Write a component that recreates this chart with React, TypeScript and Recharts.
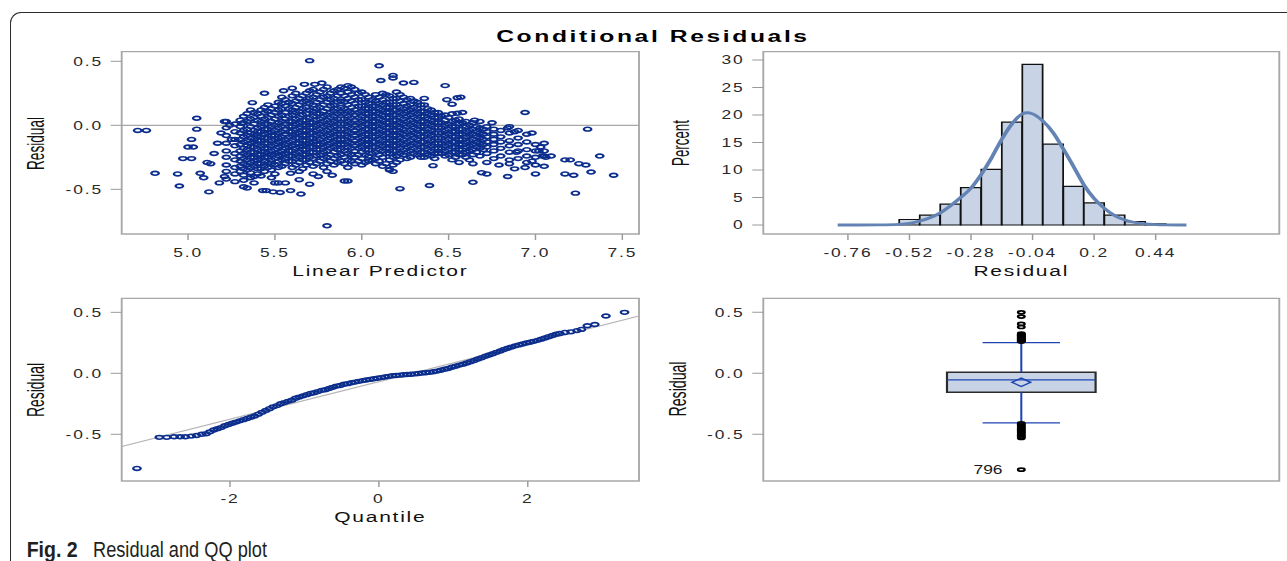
import React from 'react';
import {
  ScatterChart,
  ComposedChart,
  Scatter,
  Bar,
  Line,
  XAxis,
  YAxis,
  ReferenceArea,
  ReferenceLine,
  LabelList,
} from 'recharts';

// the SAS panel is stretched horizontally in the source picture
const STRETCH = 1.45;
const INNER_W = 1287 / STRETCH;

// ---- panel 1: residual vs linear predictor (columns of the dense cloud + stray points)
const scatterColumns: [number, number[]][] = [
  [5.22, [0.03, -0.02, -0.08, -0.14, -0.2, -0.25, -0.31, -0.36, -0.42]],
  [5.27, [0.01, -0.05, -0.11, -0.16, -0.22, -0.27, -0.33, -0.38, -0.44]],
  [5.32, [0.07, 0.02, -0.04, -0.09, -0.13, -0.18, -0.22, -0.26, -0.3, -0.34, -0.39, -0.43]],
  [5.36, [0.12, 0.05, -0.01, -0.06, -0.1, -0.14, -0.17, -0.21, -0.25, -0.29, -0.33, -0.37, -0.41]],
  [5.4, [0.09, 0.04, -0.02, -0.05, -0.08, -0.12, -0.15, -0.19, -0.23, -0.27, -0.3, -0.34, -0.38]],
  [5.44, [0.14, 0.1, 0.05, 0.01, -0.03, -0.07, -0.1, -0.14, -0.18, -0.21, -0.25, -0.28, -0.32, -0.36]],
  [5.48, [0.13, 0.08, 0.03, -0.01, -0.05, -0.08, -0.12, -0.16, -0.2, -0.23, -0.27, -0.3, -0.35, -0.41]],
  [5.52, [0.18, 0.12, 0.07, 0.02, -0.02, -0.06, -0.1, -0.13, -0.17, -0.21, -0.24, -0.28, -0.33, -0.45]],
  [5.56, [0.2, 0.15, 0.1, 0.05, 0.01, -0.03, -0.07, -0.11, -0.15, -0.18, -0.22, -0.26, -0.3]],
  [5.6, [0.23, 0.17, 0.12, 0.08, 0.03, -0.01, -0.05, -0.08, -0.12, -0.16, -0.2, -0.24, -0.28, -0.33]],
  [5.64, [0.21, 0.16, 0.11, 0.06, 0.02, -0.02, -0.06, -0.1, -0.14, -0.17, -0.21, -0.25, -0.29, -0.36]],
  [5.68, [0.25, 0.19, 0.14, 0.09, 0.04, 0.0, -0.04, -0.08, -0.12, -0.15, -0.19, -0.23, -0.27, -0.31]],
  [5.72, [0.28, 0.22, 0.16, 0.11, 0.07, 0.02, -0.02, -0.06, -0.1, -0.13, -0.17, -0.21, -0.26, -0.32, -0.38]],
  [5.76, [0.26, 0.2, 0.14, 0.09, 0.05, 0.01, -0.03, -0.07, -0.11, -0.15, -0.19, -0.23, -0.28]],
  [5.8, [0.3, 0.23, 0.18, 0.13, 0.08, 0.04, 0.0, -0.04, -0.08, -0.12, -0.16, -0.2, -0.25, -0.3, -0.36]],
  [5.84, [0.27, 0.21, 0.16, 0.11, 0.07, 0.03, -0.01, -0.05, -0.09, -0.13, -0.17, -0.21, -0.26, -0.31]],
  [5.88, [0.3, 0.25, 0.19, 0.14, 0.1, 0.05, 0.01, -0.03, -0.07, -0.11, -0.15, -0.19, -0.23, -0.28]],
  [5.92, [0.31, 0.26, 0.21, 0.16, 0.11, 0.07, 0.03, -0.01, -0.05, -0.09, -0.13, -0.17, -0.22, -0.27, -0.33]],
  [5.96, [0.28, 0.22, 0.17, 0.12, 0.08, 0.04, 0.0, -0.04, -0.08, -0.12, -0.16, -0.2, -0.25, -0.3]],
  [6.0, [0.26, 0.2, 0.15, 0.11, 0.07, 0.03, -0.01, -0.05, -0.09, -0.13, -0.17, -0.21, -0.26, -0.31]],
  [6.04, [0.22, 0.17, 0.13, 0.09, 0.05, 0.01, -0.03, -0.07, -0.11, -0.15, -0.19, -0.24, -0.28]],
  [6.08, [0.24, 0.19, 0.15, 0.11, 0.07, 0.03, -0.01, -0.05, -0.09, -0.13, -0.17, -0.21, -0.26, -0.3]],
  [6.12, [0.25, 0.2, 0.16, 0.12, 0.08, 0.04, 0.0, -0.04, -0.08, -0.12, -0.16, -0.2, -0.25, -0.32]],
  [6.16, [0.23, 0.18, 0.14, 0.1, 0.06, 0.02, -0.02, -0.06, -0.1, -0.14, -0.18, -0.22, -0.27, -0.35]],
  [6.2, [0.26, 0.21, 0.16, 0.12, 0.08, 0.04, 0.0, -0.04, -0.08, -0.12, -0.16, -0.2, -0.24, -0.29]],
  [6.24, [0.22, 0.17, 0.13, 0.09, 0.05, 0.01, -0.03, -0.07, -0.11, -0.15, -0.19, -0.23]],
  [6.28, [0.21, 0.16, 0.12, 0.08, 0.04, 0.0, -0.04, -0.08, -0.12, -0.16, -0.2, -0.25]],
  [6.32, [0.18, 0.13, 0.09, 0.05, 0.01, -0.03, -0.07, -0.11, -0.15, -0.19, -0.23]],
  [6.36, [0.16, 0.11, 0.07, 0.03, -0.01, -0.05, -0.09, -0.13, -0.17, -0.21, -0.25]],
  [6.4, [0.12, 0.08, 0.04, 0.0, -0.04, -0.08, -0.12, -0.16, -0.2, -0.24]],
  [6.44, [0.1, 0.06, 0.02, -0.02, -0.06, -0.1, -0.14, -0.18, -0.22]],
  [6.48, [0.08, 0.04, 0.0, -0.04, -0.08, -0.12, -0.16, -0.2, -0.24]],
  [6.52, [0.09, 0.03, -0.01, -0.05, -0.09, -0.13, -0.17, -0.21, -0.27]],
  [6.56, [0.05, 0.01, -0.03, -0.07, -0.11, -0.15, -0.19, -0.23, -0.29]],
  [6.6, [0.03, -0.01, -0.05, -0.09, -0.13, -0.17, -0.21, -0.25]],
  [6.64, [0.02, -0.03, -0.07, -0.11, -0.15, -0.19, -0.23, -0.3]],
  [6.68, [0.03, -0.02, -0.06, -0.1, -0.14, -0.18, -0.24]],
  [6.72, [-0.01, -0.05, -0.09, -0.13, -0.17, -0.22, -0.29]],
  [6.76, [-0.03, -0.07, -0.11, -0.15, -0.2, -0.26]],
  [6.8, [-0.04, -0.09, -0.13, -0.18, -0.24]],
  [6.85, [-0.01, -0.06, -0.12, -0.16, -0.21, -0.27]],
  [6.9, [-0.04, -0.1, -0.15, -0.2, -0.26]],
  [6.95, [-0.07, -0.13, -0.19, -0.24, -0.29]],
  [7.0, [-0.15, -0.2, -0.25, -0.31]],
  [7.05, [-0.14, -0.2, -0.24, -0.32]],
];

// points lying between the columns above, in the dense core
const scatterCore: [number, number[]][] = [
  [5.3, [0.04, -0.01, -0.06, -0.11, -0.15, -0.2, -0.24, -0.28, -0.32, -0.36]],
  [5.34, [0.09, 0.03, -0.03, -0.08, -0.12, -0.16, -0.19, -0.23, -0.27, -0.31, -0.35]],
  [5.38, [0.1, 0.06, 0.01, -0.04, -0.07, -0.11, -0.13, -0.17, -0.21, -0.25, -0.28, -0.32, -0.4]],
  [5.42, [0.12, 0.07, 0.03, -0.01, -0.05, -0.09, -0.12, -0.16, -0.2, -0.23, -0.26, -0.3, -0.34]],
  [5.46, [0.16, 0.11, 0.06, 0.01, -0.03, -0.06, -0.1, -0.14, -0.18, -0.22, -0.25, -0.29, -0.33]],
  [5.5, [0.15, 0.1, 0.05, 0.0, -0.04, -0.08, -0.11, -0.15, -0.19, -0.22, -0.26, -0.31, -0.38]],
  [5.54, [0.22, 0.17, 0.13, 0.08, 0.03, -0.01, -0.05, -0.09, -0.12, -0.16, -0.2, -0.23, -0.27, -0.32]],
  [5.58, [0.18, 0.13, 0.07, 0.03, -0.01, -0.05, -0.09, -0.13, -0.17, -0.2, -0.24, -0.28]],
  [5.62, [0.25, 0.19, 0.14, 0.1, 0.05, 0.01, -0.03, -0.07, -0.1, -0.14, -0.18, -0.22, -0.26, -0.31]],
  [5.66, [0.23, 0.18, 0.13, 0.08, 0.04, 0.0, -0.04, -0.08, -0.12, -0.16, -0.19, -0.23, -0.27, -0.34]],
  [5.7, [0.27, 0.21, 0.17, 0.12, 0.06, 0.02, -0.02, -0.06, -0.1, -0.14, -0.17, -0.21, -0.25, -0.29]],
  [5.74, [0.24, 0.18, 0.13, 0.09, 0.04, 0.0, -0.04, -0.08, -0.12, -0.15, -0.19, -0.24, -0.3]],
  [5.78, [0.28, 0.22, 0.16, 0.11, 0.07, 0.03, -0.01, -0.05, -0.09, -0.13, -0.17, -0.21, -0.26, -0.33]],
  [5.82, [0.25, 0.2, 0.15, 0.1, 0.06, 0.02, -0.02, -0.06, -0.1, -0.14, -0.18, -0.23, -0.28]],
  [5.86, [0.28, 0.23, 0.18, 0.13, 0.09, 0.05, 0.01, -0.03, -0.07, -0.11, -0.15, -0.19, -0.24, -0.29]],
  [5.9, [0.29, 0.23, 0.18, 0.13, 0.09, 0.05, 0.01, -0.03, -0.07, -0.11, -0.15, -0.2, -0.25, -0.3]],
  [5.94, [0.3, 0.24, 0.19, 0.14, 0.1, 0.06, 0.02, -0.02, -0.06, -0.1, -0.14, -0.18, -0.23, -0.28]],
  [5.98, [0.25, 0.2, 0.15, 0.1, 0.06, 0.02, -0.02, -0.06, -0.1, -0.14, -0.18, -0.23, -0.28]],
  [6.02, [0.24, 0.18, 0.13, 0.09, 0.05, 0.01, -0.03, -0.07, -0.11, -0.15, -0.19, -0.23, -0.29]],
  [6.06, [0.2, 0.15, 0.11, 0.07, 0.03, -0.01, -0.05, -0.09, -0.13, -0.17, -0.22, -0.27]],
  [6.1, [0.22, 0.17, 0.13, 0.09, 0.05, 0.01, -0.03, -0.07, -0.11, -0.15, -0.19, -0.23, -0.28]],
  [6.14, [0.24, 0.18, 0.14, 0.1, 0.06, 0.02, -0.02, -0.06, -0.1, -0.14, -0.18, -0.22, -0.3]],
  [6.18, [0.21, 0.16, 0.12, 0.08, 0.04, 0.0, -0.04, -0.08, -0.12, -0.16, -0.2, -0.25, -0.31]],
  [6.22, [0.24, 0.19, 0.14, 0.1, 0.06, 0.02, -0.02, -0.06, -0.1, -0.14, -0.18, -0.22, -0.27]],
  [6.26, [0.2, 0.15, 0.11, 0.07, 0.03, -0.01, -0.05, -0.09, -0.13, -0.17, -0.21, -0.26]],
  [6.3, [0.19, 0.14, 0.1, 0.06, 0.02, -0.02, -0.06, -0.1, -0.14, -0.18, -0.22]],
  [6.34, [0.16, 0.11, 0.07, 0.03, -0.01, -0.05, -0.09, -0.13, -0.17, -0.21, -0.25]],
  [6.38, [0.13, 0.09, 0.05, 0.01, -0.03, -0.07, -0.11, -0.15, -0.19, -0.23]],
  [6.42, [0.1, 0.06, 0.02, -0.02, -0.06, -0.1, -0.14, -0.18, -0.22, -0.26]],
  [6.46, [0.07, 0.02, -0.02, -0.06, -0.1, -0.14, -0.18, -0.22]],
  [6.5, [0.06, 0.01, -0.03, -0.07, -0.11, -0.15, -0.19, -0.23]],
  [6.54, [0.04, -0.01, -0.05, -0.09, -0.13, -0.17, -0.21, -0.25]],
  [6.58, [0.02, -0.03, -0.07, -0.11, -0.15, -0.19, -0.23]],
  [6.62, [0.0, -0.04, -0.08, -0.12, -0.16, -0.2, -0.27]],
  [6.66, [-0.01, -0.05, -0.09, -0.13, -0.17, -0.21]],
  [6.7, [-0.03, -0.07, -0.11, -0.15, -0.19]],
];

const scatterStray: [number, number][] = [
  [4.71, -0.04], [4.76, -0.04], [4.81, -0.375], [4.94, -0.38], [4.95, -0.474], [5.05, 0.055],
  [5.05, -0.03], [5.02, -0.11], [5.0, -0.17], [5.03, -0.17], [4.97, -0.26], [5.02, -0.26],
  [5.11, -0.29], [5.07, -0.375], [5.09, -0.41], [5.12, -0.52], [5.18, -0.45], [5.21, -0.4],
  [5.13, -0.3], [5.15, -0.22], [5.17, -0.14], [5.19, -0.06], [5.21, 0.03], [5.24, 0.0],
  [5.25, -0.11], [5.31, 0.016], [5.37, 0.177], [5.44, 0.25], [5.55, 0.27], [5.6, 0.29],
  [5.67, 0.32], [5.73, 0.32], [5.77, 0.33], [5.7, 0.505], [5.8, -0.785], [5.65, -0.537],
  [5.59, -0.51], [5.53, -0.525], [5.49, -0.52], [5.45, -0.51], [5.43, -0.51], [5.7, -0.46],
  [5.32, -0.48], [5.34, -0.49], [5.38, -0.45], [5.42, -0.396], [5.5, -0.45], [5.56, -0.45],
  [5.9, -0.435], [5.92, -0.435], [5.64, -0.425], [5.75, -0.4], [5.83, -0.39], [5.59, -0.375],
  [6.1, 0.465], [6.18, 0.39], [6.18, 0.37], [6.11, 0.35], [6.24, 0.33], [6.3, 0.335],
  [6.48, 0.31], [6.36, 0.21], [6.49, 0.2], [6.52, 0.165], [6.57, 0.22], [6.55, 0.215],
  [6.55, 0.094], [6.58, 0.1], [6.94, 0.1], [7.3, -0.03], [6.98, -0.06], [7.37, -0.24],
  [7.45, -0.39], [7.23, -0.53], [7.32, -0.365], [7.22, -0.39], [7.17, -0.38], [7.17, -0.27],
  [7.2, -0.27], [7.25, -0.3], [7.29, -0.31], [7.09, -0.24], [7.06, -0.25], [7.0, -0.38],
  [6.84, -0.4], [6.69, -0.37], [6.72, -0.38], [6.64, -0.445], [6.39, -0.47], [6.22, -0.495],
  [6.41, -0.315], [6.79, -0.31], [6.85, -0.3], [6.88, -0.34], [6.94, -0.33], [7.04, -0.24],
  [6.89, -0.21], [6.98, -0.28], [7.03, -0.17], [7.02, -0.2], [6.16, -0.345], [6.18, -0.36],
  [6.84, -0.02], [6.88, -0.05], [6.75, 0.02], [6.65, 0.04],
];

const predictorTicks = [5, 5.5, 6, 6.5, 7, 7.5];
const residualTicks = [-0.5, 0, 0.5];

// ---- panel 2: histogram of residuals with normal curve
const binCenters = [-0.52, -0.44, -0.36, -0.28, -0.2, -0.12, -0.04, 0.04, 0.12, 0.2, 0.28, 0.36, 0.44];
const binPercents = [1.0, 1.8, 3.8, 6.8, 10.1, 18.7, 29.2, 14.7, 7.0, 4.0, 1.8, 0.6, 0.2];
const curveX = [-0.8, -0.72, -0.64, -0.56, -0.52, -0.48, -0.44, -0.4, -0.36, -0.32, -0.28, -0.24, -0.2, -0.16,
  -0.12, -0.08, -0.06, -0.04, 0.0, 0.04, 0.08, 0.12, 0.16, 0.2, 0.24, 0.28, 0.32, 0.36, 0.4, 0.44, 0.48, 0.56];
const curveY = [0, 0, 0.02, 0.12, 0.3, 0.7, 1.3, 2.2, 3.5, 5.0, 6.7, 9.2, 12.2, 15.6,
  18.4, 20.2, 20.4, 20.2, 18.9, 16.8, 13.8, 10.6, 7.3, 4.8, 3.0, 1.7, 0.9, 0.45, 0.2, 0.08, 0.03, 0];
const histTicks = [-0.76, -0.52, -0.28, -0.04, 0.2, 0.44];
const percentTicks = [0, 5, 10, 15, 20, 25, 30];

// ---- panel 3: QQ plot
const qqPoints: [number, number][] = [
  [-3.25, -0.78], [-2.95, -0.525], [-2.85, -0.525], [-2.75, -0.52], [-2.67, -0.52], [-2.6, -0.52],
  [-2.52, -0.515], [-2.45, -0.51], [-2.38, -0.5], [-2.32, -0.495], [-2.27, -0.48], [-2.22, -0.465],
  [-2.17, -0.455], [-2.12, -0.445], [-2.07, -0.43], [-2.02, -0.42], [-1.97, -0.41], [-1.92, -0.4],
  [-1.87, -0.39], [-1.82, -0.38], [-1.77, -0.37], [-1.72, -0.36], [-1.67, -0.35], [-1.62, -0.335],
  [-1.57, -0.32], [-1.52, -0.305], [-1.47, -0.29], [-1.42, -0.275], [-1.37, -0.265], [-1.32, -0.25],
  [-1.27, -0.24], [-1.22, -0.23], [-1.17, -0.22], [-1.12, -0.205], [-1.07, -0.195], [-1.02, -0.185],
  [-0.97, -0.175], [-0.92, -0.165], [-0.87, -0.16], [-0.82, -0.15], [-0.77, -0.14], [-0.72, -0.135],
  [-0.67, -0.125], [-0.62, -0.115], [-0.57, -0.105], [-0.52, -0.1], [-0.47, -0.09], [-0.42, -0.085],
  [-0.37, -0.078], [-0.32, -0.072], [-0.27, -0.066], [-0.22, -0.06], [-0.17, -0.055], [-0.12, -0.05],
  [-0.07, -0.045], [-0.02, -0.04], [0.03, -0.035], [0.08, -0.03], [0.13, -0.025], [0.18, -0.02],
  [0.23, -0.018], [0.28, -0.015], [0.33, -0.012], [0.38, -0.01], [0.43, -0.008], [0.48, -0.005],
  [0.53, -0.002], [0.58, 0.002], [0.63, 0.005], [0.68, 0.008], [0.73, 0.013], [0.78, 0.018],
  [0.83, 0.025], [0.88, 0.033], [0.93, 0.04], [0.98, 0.05], [1.03, 0.058], [1.08, 0.067],
  [1.13, 0.075], [1.18, 0.085], [1.23, 0.095], [1.28, 0.105], [1.33, 0.117], [1.38, 0.128],
  [1.43, 0.14], [1.48, 0.15], [1.53, 0.16], [1.58, 0.172], [1.63, 0.183], [1.68, 0.195],
  [1.73, 0.205], [1.78, 0.215], [1.83, 0.225], [1.88, 0.233], [1.93, 0.24], [1.98, 0.248],
  [2.03, 0.255], [2.08, 0.262], [2.13, 0.27], [2.18, 0.28], [2.23, 0.29], [2.28, 0.3],
  [2.33, 0.31], [2.38, 0.32], [2.43, 0.327], [2.5, 0.335], [2.58, 0.34], [2.66, 0.35],
  [2.72, 0.36], [2.8, 0.39], [2.9, 0.4], [3.05, 0.47], [3.3, 0.5],
];
const qqLine: [number, number][] = [[-3.455, -0.6], [3.494, 0.47]];
const quantileTicks = [-2, 0, 2];

// ---- panel 4: box plot
const boxQ1 = -0.156;
const boxMedian = -0.054;
const boxQ3 = 0.008;
const boxMean = -0.074;
const lowerFence = -0.407;
const upperFence = 0.252;
const upperOutliers = [0.26, 0.265, 0.27, 0.275, 0.28, 0.285, 0.29, 0.295, 0.3, 0.305, 0.31, 0.315, 0.32,
  0.325, 0.38, 0.405, 0.465, 0.5];
const lowerOutliers = [-0.41, -0.42, -0.43, -0.44, -0.45, -0.46, -0.47, -0.48, -0.49, -0.5, -0.51, -0.52,
  -0.53];
const farOutlierId = '796';
const farOutlierValue = -0.79;

// ---- styling
const FONT = "'Liberation Sans', Arial, Helvetica, sans-serif";
const BLUE = '#0b2d8c';
const FRAME = '#a8a8a8';
const TICK = '#9a9a9a';
const BAR_FILL = '#c8d4e6';
const CURVE = '#6383b5';
const WHISKER = '#1f45b2';

const BOX_HALF = 0.144;
const CAP_HALF = 0.075;

const tickText = { fontFamily: FONT, fontSize: 12, fill: '#2a2a2a', letterSpacing: '1.3px' };

const xTick = (fmt: (v: number) => string) => (props: any) => (
  <text x={props.x} y={props.y} dy="0.71em" textAnchor="middle" style={tickText}>
    {fmt(props.payload.value)}
  </text>
);
const yTick = (fmt: (v: number) => string) => (props: any) => (
  <text x={props.x} y={props.y} dy="0.355em" textAnchor="end" style={tickText}>
    {fmt(props.payload.value)}
  </text>
);

const xLabel = (value: string, offset: number) => ({
  value,
  position: 'insideBottom' as const,
  offset,
  style: { fontFamily: FONT, fontSize: 14.5, fill: '#111', letterSpacing: '1.2px' },
});

// condensed vertical axis titles, drawn in the stretched layer
const yTitles = [
  { text: 'Residual', x: 24, y: 143.5, length: 53 },
  { text: 'Percent', x: 468.9, y: 143, length: 46 },
  { text: 'Residual', x: 24, y: 390, length: 54 },
  { text: 'Residual', x: 467, y: 389, length: 55 },
];

const BlueRing = (props: any) => (
  <ellipse cx={props.cx} cy={props.cy} rx={2.6} ry={1.9} fill="none" stroke={BLUE} strokeWidth={1.6} />
);
const BlackRing = (props: any) => (
  <ellipse cx={props.cx} cy={props.cy} rx={2.3} ry={1.5} fill="none" stroke="#000" strokeWidth={1.6} />
);
const MeanDiamond = (props: any) => {
  const { cx, cy } = props;
  return (
    <polygon
      points={`${cx - 6.5},${cy} ${cx},${cy - 4.2} ${cx + 6.5},${cy} ${cx},${cy + 4.2}`}
      fill="none"
      stroke={WHISKER}
      strokeWidth={1.3}
    />
  );
};

const fmt1 = (v: number) => v.toFixed(1);
const fmtPlain = (v: number) => String(v);

const ResidualPanel = () => {
  const data = [
    ...scatterColumns.flatMap(([x, ys]) => ys.map((y) => ({ x, y }))),
    ...scatterCore.flatMap(([x, ys]) => ys.map((y) => ({ x, y }))),
    ...scatterStray.map(([x, y]) => ({ x, y })),
  ];
  return (
    <ScatterChart width={450} height={300} margin={{ top: 51.7, right: 9.31, bottom: 16, left: 0 }}>
      <XAxis type="number" dataKey="x" domain={[4.618, 7.596]} ticks={predictorTicks} allowDataOverflow
        axisLine={false} stroke={TICK} tickSize={6} tickMargin={8.2} height={50}
        tick={xTick(fmt1)} label={xLabel('Linear Predictor', 8)} />
      <YAxis type="number" dataKey="y" domain={[-0.849, 0.575]} ticks={residualTicks} allowDataOverflow
        axisLine={false} stroke={TICK} width={83.93} tickSize={7.6} tickMargin={5.3} tick={yTick(fmt1)} />
      <ReferenceArea x1={4.618} x2={7.596} y1={-0.849} y2={0.575} fill="none" fillOpacity={0}
        stroke={FRAME} strokeWidth={1.3} />
      <ReferenceLine y={0} stroke={FRAME} strokeWidth={1.2} />
      <Scatter data={data} shape={BlueRing} isAnimationActive={false} />
    </ScatterChart>
  );
};

const HistogramPanel = () => {
  const bins = binCenters.map((x, i) => ({ x, pct: binPercents[i] }));
  const curve = curveX.map((x, i) => ({ x, pct: curveY[i] }));
  return (
    <ComposedChart width={437.6} height={300} data={bins} barCategoryGap={0} barGap={0}
      margin={{ top: 51.7, right: 5.32, bottom: 16, left: 0 }}>
      <XAxis xAxisId="main" type="number" dataKey="x" domain={[-1.09, 0.922]} ticks={histTicks} allowDataOverflow
        axisLine={false} stroke={TICK} tickSize={6} tickMargin={8} height={50}
        tick={xTick(fmtPlain)} label={xLabel('Residual', 8)} />
      <XAxis xAxisId="bins" type="number" dataKey="x" domain={[-1.09, 0.922]} allowDataOverflow hide height={0} />
      <YAxis type="number" domain={[-1.64, 31.5]} ticks={percentTicks} allowDataOverflow
        axisLine={false} stroke={TICK} width={76.41} tickSize={7.6} tickMargin={5.3} tick={yTick(fmtPlain)} />
      <ReferenceArea xAxisId="main" x1={-1.09} x2={0.922} y1={-1.64} y2={31.5} fill="none" fillOpacity={0}
        stroke={FRAME} strokeWidth={1.3} />
      <Bar xAxisId="bins" dataKey="pct" fill={BAR_FILL} stroke="#111" strokeWidth={1.2} isAnimationActive={false} />
      <Line xAxisId="main" data={curve} dataKey="pct" type="monotone" stroke={CURVE} strokeWidth={2.8}
        dot={false} activeDot={false} isAnimationActive={false} />
    </ComposedChart>
  );
};

const QQPanel = () => {
  const data = qqPoints.map(([x, y]) => ({ x, y }));
  return (
    <ScatterChart width={450} height={300} margin={{ top: 48.3, right: 9.31, bottom: 19, left: 0 }}>
      <XAxis type="number" dataKey="x" domain={[-3.455, 3.494]} ticks={quantileTicks} allowDataOverflow
        axisLine={false} stroke={TICK} tickSize={6} tickMargin={7.2} height={50}
        tick={xTick(fmtPlain)} label={xLabel('Quantile', 8.7)} />
      <YAxis type="number" dataKey="y" domain={[-0.883, 0.615]} ticks={residualTicks} allowDataOverflow
        axisLine={false} stroke={TICK} width={83.93} tickSize={7.6} tickMargin={5.3} tick={yTick(fmt1)} />
      <ReferenceArea x1={-3.455} x2={3.494} y1={-0.883} y2={0.615} fill="none" fillOpacity={0}
        stroke={FRAME} strokeWidth={1.3} />
      <ReferenceLine segment={qqLine.map(([x, y]) => ({ x, y }))} stroke="#b4b4b4" strokeWidth={1.2} />
      <Scatter data={data} shape={BlueRing} isAnimationActive={false} />
    </ScatterChart>
  );
};

const BoxPanel = () => {
  const mid = 0.5;
  const outliers = [...upperOutliers, ...lowerOutliers].map((y) => ({ x: mid, y }));
  const far = [{ x: mid, y: farOutlierValue, id: farOutlierId }];
  const seg = (x1: number, y1: number, x2: number, y2: number) => [{ x: x1, y: y1 }, { x: x2, y: y2 }];
  return (
    <ComposedChart width={437.6} height={300} margin={{ top: 48.3, right: 5.32, bottom: 69, left: 0 }}>
      <XAxis type="number" dataKey="x" domain={[0, 1]} allowDataOverflow hide height={0} />
      <YAxis type="number" dataKey="y" domain={[-0.883, 0.615]} ticks={residualTicks} allowDataOverflow
        axisLine={false} stroke={TICK} width={76.41} tickSize={7.6} tickMargin={5.3} tick={yTick(fmt1)} />
      <ReferenceArea x1={0} x2={1} y1={-0.883} y2={0.615} fill="none" fillOpacity={0}
        stroke={FRAME} strokeWidth={1.3} />
      <ReferenceLine segment={seg(mid, boxQ3, mid, upperFence)} stroke={WHISKER} strokeWidth={1.4} />
      <ReferenceLine segment={seg(mid, boxQ1, mid, lowerFence)} stroke={WHISKER} strokeWidth={1.4} />
      <ReferenceLine segment={seg(mid - CAP_HALF, upperFence, mid + CAP_HALF, upperFence)} stroke={WHISKER} strokeWidth={1.3} />
      <ReferenceLine segment={seg(mid - CAP_HALF, lowerFence, mid + CAP_HALF, lowerFence)} stroke={WHISKER} strokeWidth={1.3} />
      <ReferenceArea x1={mid - BOX_HALF} x2={mid + BOX_HALF} y1={boxQ1} y2={boxQ3} fill={BAR_FILL} fillOpacity={1}
        stroke="#2b2b2b" strokeWidth={1.5} />
      <ReferenceLine segment={seg(mid - BOX_HALF, boxMedian, mid + BOX_HALF, boxMedian)} stroke={WHISKER} strokeWidth={1.3} />
      <Scatter data={[{ x: mid, y: boxMean }]} shape={MeanDiamond} isAnimationActive={false} />
      <Scatter data={outliers} shape={BlackRing} isAnimationActive={false} />
      <Scatter data={far} shape={BlackRing} isAnimationActive={false}>
        <LabelList dataKey="id" position="left" offset={8.4}
          style={{ fontFamily: FONT, fontSize: 12, fill: '#1a1a1a' }} />
      </Scatter>
    </ComposedChart>
  );
};

export default function App() {
  return (
    <div style={{ position: 'absolute', left: 0, top: 0, width: 1287, height: 561, overflow: 'hidden', background: '#fff' }}>
      <div style={{
        position: 'absolute', left: 10, top: 11.7, width: 1400, height: 700,
        borderTop: '1.3px solid #2b2b2b', borderLeft: '1.3px solid #2b2b2b', borderTopLeftRadius: 11,
      }} />
      <div style={{
        position: 'absolute', left: 0, top: 0, width: INNER_W, height: 561,
        transform: `scaleX(${STRETCH})`, transformOrigin: '0 0',
      }}>
        <div style={{ position: 'absolute', left: 0, top: 0 }}><ResidualPanel /></div>
        <div style={{ position: 'absolute', left: 450, top: 0 }}><HistogramPanel /></div>
        <div style={{ position: 'absolute', left: 0, top: 250 }}><QQPanel /></div>
        <div style={{ position: 'absolute', left: 450, top: 250 }}><BoxPanel /></div>
        <svg width={INNER_W} height={561} style={{ position: 'absolute', left: 0, top: 0, pointerEvents: 'none' }}>
          <text x={450.3} y={41.7} textAnchor="middle" fontFamily={FONT} fontWeight="bold" fontSize={17}
            fill="#000" style={{ letterSpacing: '1.8px' }}>
            Conditional Residuals
          </text>
          {yTitles.map((t, i) => (
            <text key={i} transform={`translate(${t.x},${t.y}) rotate(-90)`} textAnchor="middle" dy="0.355em"
              fontFamily={FONT} fontSize={17} fill="#111" textLength={t.length} lengthAdjust="spacingAndGlyphs">
              {t.text}
            </text>
          ))}
        </svg>
      </div>
      <svg width={1287} height={561} style={{ position: 'absolute', left: 0, top: 0, pointerEvents: 'none' }}>
        <text x={26.7} y={557} fontFamily={FONT} fontSize={22} fontWeight="bold" fill="#231f20"
          textLength={51} lengthAdjust="spacingAndGlyphs">Fig. 2</text>
        <text x={93} y={557} fontFamily={FONT} fontSize={22} fill="#231f20"
          textLength={174} lengthAdjust="spacingAndGlyphs">Residual and QQ plot</text>
      </svg>
    </div>
  );
}
